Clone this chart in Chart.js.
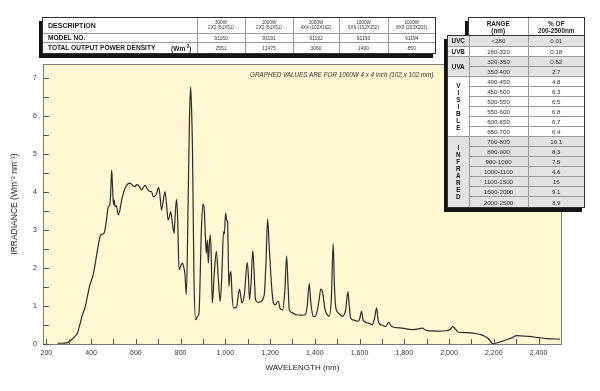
<!DOCTYPE html>
<html>
<head>
<meta charset="utf-8">
<script src="https://cdn.jsdelivr.net/npm/chart.js@4.4.1/dist/chart.umd.min.js"></script>
<style>
html, body { margin: 0; padding: 0; background: #fff; }
#wrap { position: relative; width: 600px; height: 391px; overflow: hidden; font-family: "Liberation Sans", Arial, sans-serif; }
#chart { position: absolute; left: 0; top: 0; }
.box { position: absolute; border: 1px solid #333; background: #fff; box-shadow: -3px 4px 0 #151515; }
.box table { border-collapse: collapse; border-style: hidden; table-layout: fixed; width: 100%; height: 100%; }
.box td { border: 1px solid #9a9a9a; padding: 0; text-align: center; color: #333; white-space: nowrap; overflow: hidden; }
.lbl { text-align: left !important; padding-left: 5px !important; font-weight: bold; font-size: 6.6px; color: #1a1a1a !important; }
.hd { font-size: 4.6px; line-height: 5.2px; }
.num { font-size: 5px; }
.rh { font-weight: bold; font-size: 6.4px; line-height: 7px; color: #222 !important; }
.rg { font-size: 6.2px; }
.band { font-weight: bold; font-size: 6.3px; color: #111 !important; }
.vert { line-height: 7px; }
.gray { background: #e3e3e3; }
#note { position: absolute; right: 165px; top: 71px; font-size: 6.3px; font-style: italic; color: #333; }
</style>
</head>
<body>
<div id="wrap">
  <canvas id="chart" width="600" height="391"></canvas>
  <div id="note">GRAPHED VALUES ARE FOR 1000W 4 x 4 inch (102 x 102 mm).</div>
  <div class="box" style="left:42px;top:17px;width:392px;height:35px;"><table id="modelTable"></table></div>
  <div class="box" style="left:468px;top:17px;width:115px;height:17px;"><table id="rangeHead"></table></div>
  <div class="box" style="left:447px;top:35px;width:136px;height:171px;"><table id="rangeTable"></table></div>
</div>
<script>
// spectrum (nm, W m^-2 nm^-1)
const wavelength = [
  250, 270, 290, 300, 310, 321, 330, 336, 345, 359, 374, 385, 393, 411, 418, 426, 440, 450, 458, 467,
  477, 483, 487, 492, 496, 500, 503, 507, 512, 522, 537, 548, 559, 574, 586, 596, 604, 611, 618, 626,
  633, 641, 650, 663, 670, 678, 688, 693, 702, 708, 715, 722, 730, 737, 744, 750, 756, 763, 771, 776,
  782, 787, 793, 800, 808, 815, 819, 826, 833, 840, 845, 850, 853, 860, 868, 875, 882, 893, 900, 905,
  911, 915, 920, 924, 928, 933, 937, 942, 950, 960, 968, 977, 985, 992, 996, 1001, 1007, 1010, 1016, 1021,
  1025, 1030, 1037, 1045, 1051, 1063, 1068, 1074, 1085, 1098, 1103, 1108, 1115, 1123, 1128, 1135, 1145, 1160, 1170, 1175,
  1182, 1189, 1196, 1204, 1210, 1215, 1224, 1234, 1238, 1244, 1256, 1266, 1274, 1280, 1286, 1300, 1316, 1340, 1357, 1366,
  1375, 1382, 1393, 1400, 1412, 1420, 1427, 1435, 1446, 1455, 1464, 1474, 1482, 1488, 1494, 1510, 1523, 1538, 1548, 1554,
  1560, 1575, 1590, 1600, 1609, 1615, 1620, 1640, 1657, 1668, 1676, 1682, 1686, 1700, 1716, 1731, 1738, 1743, 1790, 1835,
  1860, 1879, 1901, 1950, 1990, 2005, 2016, 2028, 2042, 2080, 2124, 2145, 2161, 2180, 2195, 2220, 2250, 2280, 2302, 2354,
  2400, 2443, 2495
];
const irradiance = [
  0.02, 0.02, 0.03, 0.05, 0.10, 0.16, 0.22, 0.25, 0.40, 0.73, 0.99, 1.30, 1.52, 1.87, 2.10, 2.39, 2.83, 2.90, 2.92, 3.18,
  3.62, 3.65, 3.90, 4.59, 4.10, 3.67, 3.80, 3.62, 3.65, 3.40, 3.80, 4.05, 4.19, 4.24, 4.18, 4.15, 4.20, 4.19, 4.12, 4.06,
  4.12, 4.18, 4.10, 4.02, 4.02, 3.88, 3.92, 3.97, 4.13, 3.90, 3.53, 3.75, 4.02, 3.70, 3.27, 3.35, 3.49, 3.20, 2.92, 3.40,
  3.81, 3.30, 1.96, 2.05, 2.13, 2.00, 1.87, 1.30, 3.45, 6.00, 6.78, 6.00, 5.20, 1.69, 0.64, 0.72, 0.80, 3.00, 3.69, 3.60,
  2.83, 2.39, 2.74, 2.13, 2.60, 2.88, 2.30, 1.08, 1.80, 2.44, 1.80, 1.12, 1.90, 2.96, 2.90, 3.45, 3.25, 3.23, 1.52, 1.85,
  1.91, 1.30, 0.95, 0.95, 0.99, 1.45, 1.30, 1.08, 1.30, 2.15, 1.80, 1.17, 1.60, 2.46, 2.00, 1.17, 1.10, 1.12, 1.22, 1.34,
  2.20, 3.29, 2.60, 1.78, 1.30, 1.08, 1.03, 1.12, 1.12, 0.95, 0.90, 1.40, 2.32, 1.60, 0.90, 0.82, 0.77, 0.76, 0.77, 1.00,
  1.59, 1.10, 0.73, 0.72, 0.90, 1.20, 1.45, 1.35, 0.90, 0.78, 0.73, 1.20, 2.64, 1.50, 0.95, 0.80, 0.73, 0.90, 1.38, 1.00,
  0.68, 0.63, 0.60, 0.65, 0.86, 0.65, 0.60, 0.55, 0.51, 0.70, 0.95, 0.70, 0.55, 0.50, 0.46, 0.57, 0.50, 0.46, 0.42, 0.38,
  0.39, 0.42, 0.35, 0.34, 0.35, 0.38, 0.46, 0.40, 0.31, 0.30, 0.27, 0.24, 0.20, 0.12, 0.01, 0.04, 0.10, 0.16, 0.22, 0.20,
  0.17, 0.14, 0.13
];

const xTicks = [200, 400, 600, 800, 1000, 1200, 1400, 1600, 1800, 2000, 2200, 2400];
const yTicks = [0, 1, 2, 3, 4, 5, 6, 7];

// lamp table
const lampRows = ["DESCRIPTION", "MODEL NO.", "TOTAL OUTPUT POWER DENSITY"];
const lampPower = ["300W", "1000W", "1000W", "1000W", "1000W"];
const lampSize = ["2X2 (51X51)", "2X2 (51X51)", "4X4 (102X102)", "6X6 (152X152)", "8X8 (203X203)"];
const modelNo = ["91160", "91191", "91192", "91193", "91194"];
const powerDensity = ["2551", "11475", "3060", "1400", "850"];

// spectral distribution table
const bands = ["UVC", "UVB", "UVA", "VISIBLE", "INFRARED"];
const bandRows = [1, 1, 2, 6, 7];
const ranges = ["<280", "280-320", "320-350", "350-400", "400-450", "450-500", "500-550", "550-600", "600-650",
  "650-700", "700-800", "800-900", "900-1000", "1000-1100", "1100-1500", "1500-2000", "2000-2500"];
const percents = ["0.01", "0.18", "0.62", "2.7", "4.8", "6.3", "6.5", "6.8", "6.7", "6.4", "10.1", "8.3", "7.5",
  "4.6", "16", "9.1", "3.9"];

// build the lamp table
let html = '<colgroup><col style="width:154px"><col style="width:48px"><col style="width:48px"><col style="width:46px"><col style="width:49px"><col style="width:47px"></colgroup>';
html += '<tr style="height:15px"><td class="lbl" style="font-size:7px">' + lampRows[0] + '</td>' +
  lampPower.map((p, i) => '<td class="hd">' + p + '<br>' + lampSize[i] + '</td>').join('') + '</tr>';
html += '<tr style="height:9px"><td class="lbl">' + lampRows[1] + '</td>' +
  modelNo.map(m => '<td class="num">' + m + '</td>').join('') + '</tr>';
html += '<tr style="height:11px"><td class="lbl">' + lampRows[2] +
  '<span style="float:right;padding-right:5px">(Wm<sup style="font-size:4.5px">-2</sup>)</span></td>' +
  powerDensity.map(d => '<td class="num">' + d + '</td>').join('') + '</tr>';
document.getElementById("modelTable").innerHTML = html;

document.getElementById("rangeHead").innerHTML =
  '<colgroup><col style="width:59px"><col style="width:56px"></colgroup>' +
  '<tr><td class="rh">RANGE<br>(nm)</td><td class="rh">% OF<br>200-2500nm</td></tr>';

html = '<colgroup><col style="width:21px"><col style="width:59px"><col style="width:56px"></colgroup>';
let r = 0;
bands.forEach((b, bi) => {
  const shade = bi % 2 === 0 ? ' gray' : '';
  for (let k = 0; k < bandRows[bi]; k++, r++) {
    html += '<tr style="height:10px">';
    if (k === 0) {
      const txt = bandRows[bi] > 2 ? '<div class="vert">' + b.split('').join('<br>') + '</div>' : b;
      html += '<td class="band' + shade + '" rowspan="' + bandRows[bi] + '">' + txt + '</td>';
    }
    html += '<td class="rg' + shade + '">' + ranges[r] + '</td><td class="rg' + shade + '">' + percents[r] + '</td></tr>';
  }
});
document.getElementById("rangeTable").innerHTML = html;

// plot background, frame and inward ticks
const framePlugin = {
  id: "frame",
  beforeDraw(chart) {
    const { ctx, chartArea: a } = chart;
    ctx.save();
    ctx.fillStyle = "#fff8d2";
    ctx.fillRect(a.left, a.top, a.right - a.left, a.bottom - a.top);
    ctx.restore();
  },
  afterDatasetsDraw(chart) {
    const { ctx, chartArea: a, scales } = chart;
    ctx.save();
    ctx.strokeStyle = "#7a7a7a";
    ctx.lineWidth = 1;
    ctx.strokeRect(a.left + 0.5, a.top + 0.5, a.right - a.left - 1, a.bottom - a.top);
    ctx.strokeStyle = "#555";
    ctx.beginPath();
    for (let v = 200; v <= 2400; v += 100) {
      const x = Math.round(scales.x.getPixelForValue(v)) + 0.5;
      ctx.moveTo(x, a.bottom);
      ctx.lineTo(x, a.bottom - 5);
    }
    for (let v = 0; v <= 7; v += 0.5) {
      const y = Math.round(scales.y.getPixelForValue(v)) + 0.5;
      ctx.moveTo(a.left, y);
      ctx.lineTo(a.left + 6, y);
    }
    ctx.stroke();
    ctx.restore();
  }
};

new Chart(document.getElementById("chart"), {
  type: "line",
  data: {
    datasets: [{
      data: wavelength.map((w, i) => ({ x: w, y: irradiance[i] })),
      borderColor: "#2b2b2b",
      borderWidth: 1.2,
      pointRadius: 0,
      cubicInterpolationMode: "monotone",
      fill: false
    }]
  },
  options: {
    responsive: false,
    animation: false,
    layout: { padding: { top: 64, right: 38, bottom: 0, left: 0 } },
    plugins: { legend: { display: false }, tooltip: { enabled: false } },
    scales: {
      x: {
        type: "linear",
        min: 185,
        max: 2505,
        afterBuildTicks: (s) => { s.ticks = xTicks.map(v => ({ value: v })); },
        afterFit: (s) => { s.height = 47; },
        grid: { display: false, drawTicks: false, tickLength: 0 },
        border: { display: false },
        ticks: { padding: 5, color: "#333", font: { family: "Liberation Sans", size: 7 }, maxRotation: 0 },
        title: { display: true, text: "WAVELENGTH (nm)", color: "#222", font: { family: "Liberation Sans", size: 8 }, padding: { top: 0, bottom: 18 } }
      },
      y: {
        min: 0,
        max: 7.38,
        afterBuildTicks: (s) => { s.ticks = yTicks.map(v => ({ value: v })); },
        afterFit: (s) => { s.width = 43; },
        grid: { display: false, drawTicks: false, tickLength: 0 },
        border: { display: false },
        ticks: { padding: 6, color: "#333", font: { family: "Liberation Sans", size: 7 } },
        title: { display: true, text: "IRRADIANCE (Wm⁻² nm⁻¹)", color: "#222", font: { family: "Liberation Sans", size: 8.5 }, padding: { top: 10, bottom: 0 } }
      }
    }
  },
  plugins: [framePlugin]
});
</script>
</body>
</html>
